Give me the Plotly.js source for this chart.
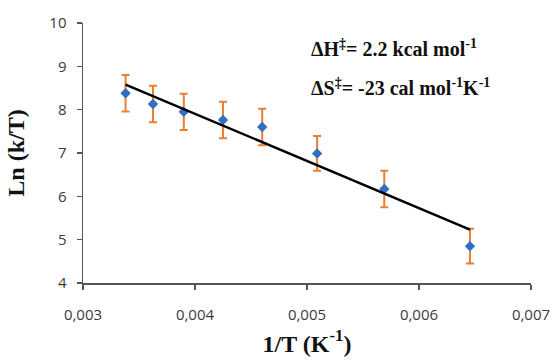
<!DOCTYPE html>
<html>
<head>
<meta charset="utf-8">
<script src="https://cdn.plot.ly/plotly-3.0.1.min.js"></script>
<style>html,body{margin:0;padding:0;background:#fff;}#chart{width:555px;height:362px;}</style>
</head>
<body>
<div id="chart"></div>
<script>
// Data
const invT = [0.00338, 0.003625, 0.0039, 0.00425, 0.0046, 0.00509, 0.00569, 0.006455];
const lnKT = [8.38, 8.13, 7.95, 7.76, 7.60, 6.99, 6.17, 4.85];
const errLn = [0.42, 0.42, 0.42, 0.42, 0.42, 0.40, 0.42, 0.40];
const fitX = [0.00338, 0.006455];
const fitY = [8.58, 5.23];
const xTicks = [0.003, 0.004, 0.005, 0.006, 0.007];
const yTicks = [4, 5, 6, 7, 8, 9, 10];

const traces = [
  {
    x: invT, y: lnKT, type: 'scatter', mode: 'markers',
    marker: {symbol: 'diamond', size: 8, color: '#2E6FC4'},
    error_y: {type: 'data', array: errLn, visible: true, color: '#ED7D31', thickness: 2, width: 4},
    showlegend: false
  },
  {
    x: fitX, y: fitY, type: 'scatter', mode: 'lines',
    line: {color: '#000000', width: 2.5},
    showlegend: false
  }
];

const tickFont = {family: 'Open Sans, Liberation Sans, sans-serif', size: 15, color: '#3a3a3a'};
const titleFont = {family: 'Liberation Serif, Times New Roman, serif', size: 24, color: '#111111', weight: 'bold'};
const annFont = {family: 'Liberation Serif, Times New Roman, serif', size: 20, color: '#111111', weight: 'bold'};

const layout = {
  width: 555, height: 362,
  margin: {l: 83, r: 24, t: 23, b: 79},
  paper_bgcolor: '#ffffff', plot_bgcolor: '#ffffff',
  separators: ',.',
  xaxis: {
    range: [0.003, 0.007], tickvals: xTicks, tickformat: '.3f',
    showgrid: false, zeroline: false,
    showline: true, linecolor: '#555555', linewidth: 1.5,
    ticks: 'outside', ticklen: 5, tickcolor: '#555555', tickwidth: 1.5,
    ticklabelstandoff: 12,
    tickfont: tickFont,
    title: {text: '1/T (K<sup>-1</sup>)', standoff: 12, font: titleFont}
  },
  yaxis: {
    range: [4, 10], tickvals: yTicks,
    showgrid: false, zeroline: false,
    showline: true, linecolor: '#555555', linewidth: 1.5,
    ticks: 'outside', ticklen: 5, tickcolor: '#555555', tickwidth: 1.5,
    ticklabelstandoff: 7,
    tickfont: tickFont,
    title: {text: 'Ln (k/T)', standoff: 18, font: titleFont}
  },
  annotations: [
    {xref: 'paper', yref: 'paper', x: 0.505, y: 0.905, xanchor: 'left', yanchor: 'middle', showarrow: false,
     text: 'ΔH<sup>‡</sup>= 2.2 kcal mol<sup>-1</sup>', font: annFont},
    {xref: 'paper', yref: 'paper', x: 0.505, y: 0.755, xanchor: 'left', yanchor: 'middle', showarrow: false,
     text: 'ΔS<sup>‡</sup>= -23 cal mol<sup>-1</sup>K<sup>-1</sup>', font: annFont}
  ]
};

Plotly.newPlot('chart', traces, layout, {displayModeBar: false, staticPlot: true});
</script>
</body>
</html>
